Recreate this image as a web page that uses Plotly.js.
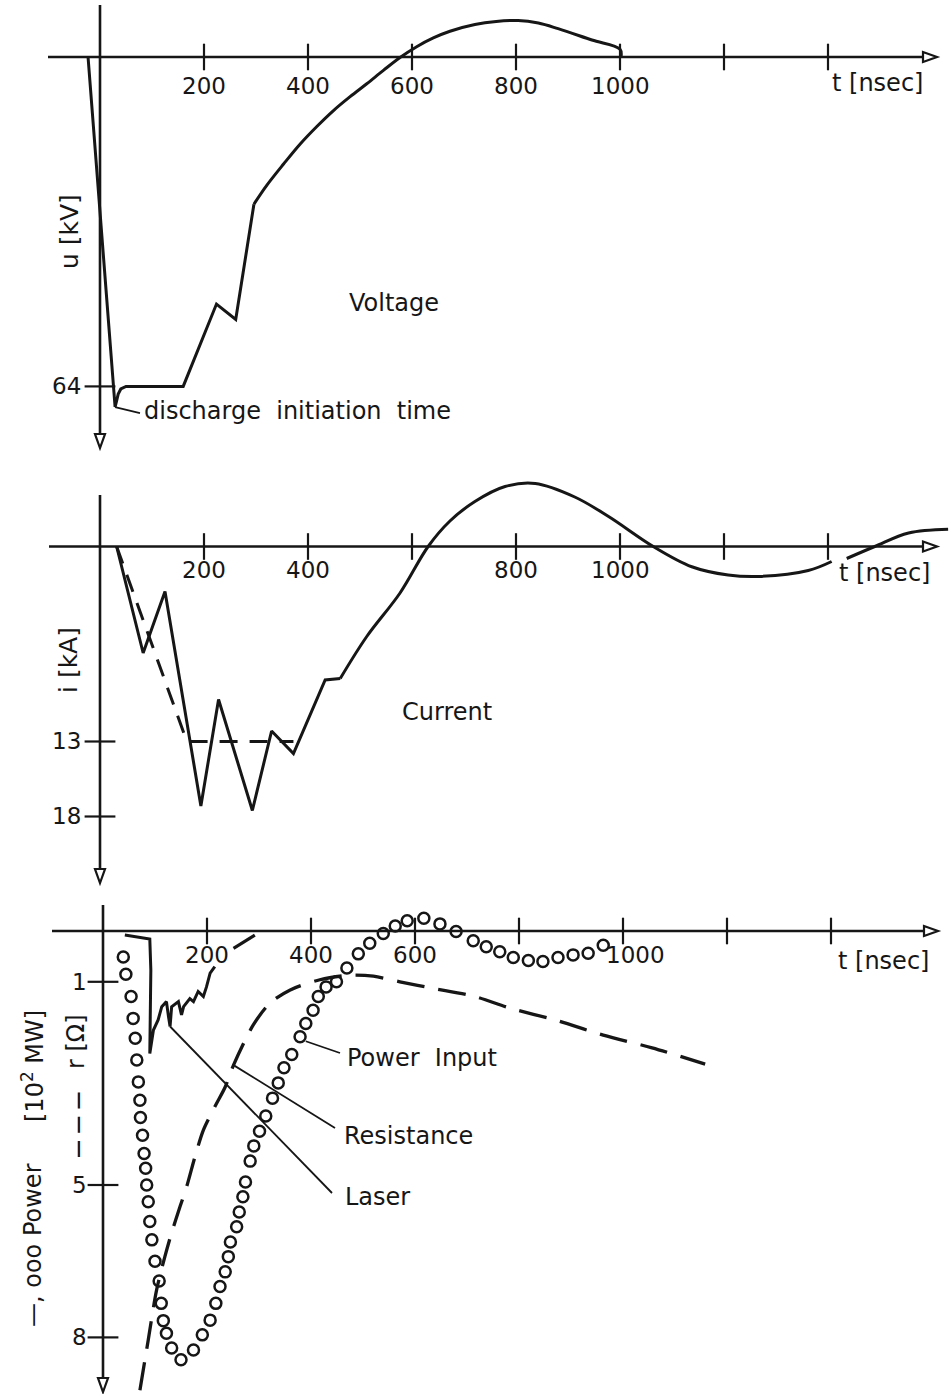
<!DOCTYPE html>
<html>
<head>
<meta charset="utf-8">
<script src="https://cdn.plot.ly/plotly-3.0.1.min.js"></script>
<style>html,body{margin:0;padding:0;background:#fff;}#chart{width:949px;height:1394px;}</style>
</head>
<body>
<div id="chart"></div>
<script>
// ---------------- DATA ----------------
// shared time ticks [nsec]
const timeTicks = [200, 400, 600, 800, 1000, 1200, 1400];
const voltTickLabels = [200, 400, 600, 800, 1000];
const currTickLabels = [200, 400, 800, 1000];
const powerTickLabels = [200, 400, 600, 1000];

// Panel 1: voltage u [kV] (positive downwards)
const voltStepT  = [-23, 29, 31, 35, 40, 50, 160, 224, 261, 296];
const voltStepKV = [0, 68, 67.2, 65.5, 64.5, 64, 64, 48, 51, 28.6];
const voltCurveT  = [296, 321, 353, 385, 417, 449, 481, 513, 545, 577, 609, 641, 673, 721, 762, 804, 843, 881, 946, 1000, 1002];
const voltCurveKV = [28.6, 24.9, 20.8, 16.9, 13.5, 10.4, 7.7, 5.2, 2.6, 0.1, -2.0, -3.7, -5.0, -6.3, -6.9, -7.1, -6.6, -5.5, -3.3, -1.5, 0];
const voltTicks = [64];

// Panel 2: current i [kA]
const currStepT  = [32, 83, 125, 194, 228, 293, 330, 372, 433, 462];
const currStepKA = [0, 7.1, 3.0, 17.3, 10.2, 17.6, 12.3, 13.8, 8.9, 8.8];
const currWaveT  = [462, 513, 577, 631, 673, 721, 779, 837, 913, 978, 1064, 1138, 1208, 1266, 1362, 1407, null, 1436, 1490, 1555, 1631];
const currWaveKA = [8.8, 6.0, 3.1, 0, -1.7, -3.0, -4.0, -4.2, -3.3, -2.0, 0, 1.35, 1.9, 2.0, 1.6, 1.0, null, 0.8, 0, -0.9, -1.15];
const currDashT  = [32, 167, 372];
const currDashKA = [0, 13, 13];
const currTicks = [13, 18];

// Panel 3: power input (circles) [10^2 MW]
const powerT = [39, 44, 54, 58, 62, 65, 68, 71, 72, 76, 79, 82, 84, 87, 90, 94, 100, 108, 112, 116, 122, 132, 150,
  174, 191, 206, 217, 225, 235, 241, 245, 257, 262, 269, 274, 283, 290, 301, 313, 326, 337, 348, 363, 379, 390, 404,
  414, 429, 449, 469, 491, 513, 539, 562, 585, 617, 648, 679, 712, 737, 763, 789, 818, 846, 875, 904, 933, 962];
const powerP = [0.51, 0.85, 1.29, 1.72, 2.11, 2.54, 2.97, 3.33, 3.67, 4.02, 4.38, 4.67, 5.0, 5.33, 5.72, 6.08, 6.5, 6.89, 7.33, 7.67, 7.92, 8.21, 8.44,
  8.25, 7.95, 7.66, 7.33, 7.0, 6.71, 6.41, 6.12, 5.82, 5.53, 5.23, 4.94, 4.53, 4.23, 3.94, 3.64, 3.29, 2.99, 2.69, 2.43, 2.08, 1.82, 1.56,
  1.29, 1.10, 1.0, 0.73, 0.45, 0.24, 0.05, -0.10, -0.20, -0.25, -0.14, 0.01, 0.19, 0.31, 0.41, 0.52, 0.58, 0.60, 0.52, 0.47, 0.44, 0.28];
// laser power (solid) [10^2 MW]
const laserT = [42, 90, 92, 90, 97, 106, 113, 122, 126, 129, 132, 145, 151, 155, 167, 174, 183, 193, 199, 206, 215];
const laserP = [0.08, 0.16, 0.77, 2.41, 1.95, 1.75, 1.49, 1.39, 1.69, 1.88, 1.49, 1.39, 1.65, 1.49, 1.33, 1.39, 1.19, 1.29, 1.10, 0.83, 0.70];
const laserTailT = [251, 292];
const laserTailP = [0.34, 0.08];
// resistance r [Ohm] (dashed)
const resT = [71, 87, 103, 119, 132, 148, 161, 177, 193, 215, 235, 251, 289, 321, 360, 417, 475, 520, 571, 635, 715, 783, 869, 962, 1056, 1158];
const resR = [9.04, 8.05, 7.07, 6.41, 5.94, 5.43, 5.03, 4.44, 3.92, 3.46, 3.07, 2.64, 1.85, 1.42, 1.16, 0.96, 0.87, 0.89, 1.0, 1.13, 1.29, 1.52, 1.75, 2.05, 2.30, 2.62];
const powerTicks = [1, 5, 8];

// ---------------- LAYOUT GEOMETRY ----------------
const W = 949, H = 1394;
const INK = '#161616';
const FONT = 'DejaVu Sans, Noto Sans, sans-serif';
const panels = [
  {xa:'x',  ya:'y',  x0:100, y0:57,    sx:0.52, sy:5.147, top:0,   bottom:460,  axL:48, axR:937, axT:5,   axB:448},
  {xa:'x2', ya:'y2', x0:100, y0:546.5, sx:0.52, sy:15,    top:465, bottom:890,  axL:49, axR:937, axT:495, axB:883},
  {xa:'x3', ya:'y3', x0:103, y0:931,   sx:0.52, sy:50.8,  top:895, bottom:1394, axL:52, axR:938, axT:905, axB:1392}
];
const tX = (p, px) => (px - p.x0) / p.sx;
const vY = (p, py) => (py - p.y0) / p.sy;

const layout = {
  width: W, height: H,
  margin: {l:0, r:0, t:0, b:0, pad:0},
  paper_bgcolor: '#fff', plot_bgcolor: '#fff',
  showlegend: false,
  font: {family: FONT, color: INK, size: 24},
  shapes: [], annotations: []
};
const axKey = id => (id[0] === 'x' ? 'xaxis' : 'yaxis') + id.slice(1);

panels.forEach(p => {
  layout[axKey(p.xa)] = {domain:[0,1], range:[tX(p,0), tX(p,W)], anchor:p.ya,
    showgrid:false, zeroline:false, showticklabels:false, ticks:'', showline:false, fixedrange:true};
  layout[axKey(p.ya)] = {domain:[1 - p.bottom/H, 1 - p.top/H], range:[vY(p,p.bottom), vY(p,p.top)], anchor:p.xa,
    showgrid:false, zeroline:false, showticklabels:false, ticks:'', showline:false, fixedrange:true};
  // axis lines
  layout.shapes.push({type:'line', xref:p.xa, yref:p.ya, x0:tX(p,p.axL), x1:tX(p,p.axR - 4), y0:0, y1:0, line:{color:INK, width:2.6}});
  layout.shapes.push({type:'line', xref:p.xa, yref:p.ya, x0:0, x1:0, y0:vY(p,p.axT), y1:vY(p,p.axB - 4), line:{color:INK, width:2.6}});
  // open arrowheads
  layout.shapes.push({type:'path', xref:p.xa, yref:p.ya, xsizemode:'pixel', ysizemode:'pixel',
    xanchor:tX(p,p.axR), yanchor:0, path:'M -14 -5 L 0 0 L -14 5 Z', fillcolor:'#fff', line:{color:INK, width:2.2}});
  layout.shapes.push({type:'path', xref:p.xa, yref:p.ya, xsizemode:'pixel', ysizemode:'pixel',
    xanchor:0, yanchor:vY(p,p.axB), path:'M -5 14 L 5 14 L 0 0 Z', fillcolor:'#fff', line:{color:INK, width:2.2}});
});

const traces = [];
function line(p, x, y, opts) {
  traces.push({type:'scatter', mode:'lines', x:x, y:y, xaxis:p.xa, yaxis:p.ya,
    hoverinfo:'skip', cliponaxis:false, connectgaps:false,
    line:Object.assign({color:INK, width:3}, opts || {})});
}
function ticksX(p) {
  traces.push({type:'scatter', mode:'markers', x:timeTicks, y:timeTicks.map(() => 0), xaxis:p.xa, yaxis:p.ya, hoverinfo:'skip',
    marker:{symbol:'line-ns', size:19, line:{color:INK, width:2.2}}});
}
function ticksY(p, vals) {
  traces.push({type:'scatter', mode:'markers', x:vals.map(() => 0), y:vals, xaxis:p.xa, yaxis:p.ya, hoverinfo:'skip',
    marker:{symbol:'line-ew', size:22, line:{color:INK, width:2.2}}});
}
function tickLabels(p, vals, yshift, shifts) {
  vals.forEach((v, i) => layout.annotations.push({xref:p.xa, yref:p.ya, x:v, y:0, text:String(v), showarrow:false,
    yshift:yshift, xshift:(shifts && shifts[i]) || 0, font:{size:23, family:FONT, color:INK}}));
}
function yTickLabels(p, vals, xshift) {
  vals.forEach(v => layout.annotations.push({xref:p.xa, yref:p.ya, x:0, y:v, text:String(v), showarrow:false,
    xanchor:'right', xshift:xshift, font:{size:23, family:FONT, color:INK}}));
}
function text(p, px, py, str, opts) {
  layout.annotations.push(Object.assign({xref:p.xa, yref:p.ya, x:tX(p,px), y:vY(p,py), text:str, showarrow:false,
    font:{size:24, family:FONT, color:INK}}, opts || {}));
}
function paperText(px, py, str, size) {
  layout.annotations.push({xref:'paper', yref:'paper', x:px/W, y:1 - py/H, text:str, showarrow:false, textangle:-90,
    xanchor:'center', yanchor:'middle', font:{size:size || 24, family:FONT, color:INK}});
}
// leader line from a data point on a curve to a label position (pixels)
function leader(p, fromT, fromV, toPx, toPy) {
  layout.shapes.push({type:'line', xref:p.xa, yref:p.ya, x0:fromT, y0:fromV, x1:tX(p,toPx), y1:vY(p,toPy),
    line:{color:INK, width:1.8}});
}

// ---- Panel 1: voltage
const P1 = panels[0];
ticksX(P1); ticksY(P1, voltTicks);
line(P1, voltStepT, voltStepKV);
line(P1, voltCurveT, voltCurveKV, {shape:'spline', smoothing:1});
tickLabels(P1, voltTickLabels, -29);
yTickLabels(P1, voltTicks, -17);
text(P1, 877, 83, 't [nsec]');
paperText(70, 232, 'u [kV]', 25);
text(P1, 394, 303, 'Voltage');
text(P1, 142, 411, 'discharge\u00a0 initiation\u00a0 time', {xanchor:'left'});
leader(P1, voltStepT[1], voltStepKV[1], 140, 413);

// ---- Panel 2: current
const P2 = panels[1];
ticksX(P2); ticksY(P2, currTicks);
line(P2, currStepT, currStepKA);
line(P2, currWaveT, currWaveKA, {shape:'spline', smoothing:1});
line(P2, currDashT, currDashKA, {dash:'18px,12px'});
tickLabels(P2, currTickLabels, -24);
yTickLabels(P2, currTicks, -17);
text(P2, 884, 573, 't [nsec]');
paperText(69, 660, 'i [kA]', 25);
text(P2, 447, 712, 'Current');

// ---- Panel 3: power / resistance
const P3 = panels[2];
ticksX(P3); ticksY(P3, powerTicks);
line(P3, resT, resR, {shape:'spline', smoothing:0.8, dash:'28px,14px', width:3.3});
line(P3, laserT, laserP, {width:3});
line(P3, laserTailT, laserTailP, {width:3.2});
traces.push({type:'scatter', mode:'markers', x:powerT, y:powerP, xaxis:P3.xa, yaxis:P3.ya, hoverinfo:'skip', cliponaxis:false,
  marker:{symbol:'circle-open', size:11, color:INK, line:{color:INK, width:2.5}}});
tickLabels(P3, powerTickLabels, -24, [0, 0, 0, 12]);
yTickLabels(P3, powerTicks, -14);
text(P3, 883, 961, 't [nsec]');
paperText(33, 1245, '\u2014, ooo Power', 24);
paperText(33, 1066, '[10<sup>2</sup> MW]', 24);
paperText(77, 1125, '<b>\u2014 \u2014 \u2014</b>', 18);
paperText(76, 1042, 'r [\u03a9]', 24);
text(P3, 345, 1058, 'Power\u00a0 Input', {xanchor:'left'});
text(P3, 342, 1136, 'Resistance', {xanchor:'left'});
text(P3, 343, 1197, 'Laser', {xanchor:'left'});
leader(P3, powerT[44], powerP[44] + 0.35, 340, 1053);
leader(P3, resT[11], resR[11], 335, 1128);
leader(P3, laserT[9], laserP[9], 332, 1193);

Plotly.newPlot('chart', traces, layout, {staticPlot:true, displayModeBar:false});
</script>
</body>
</html>
